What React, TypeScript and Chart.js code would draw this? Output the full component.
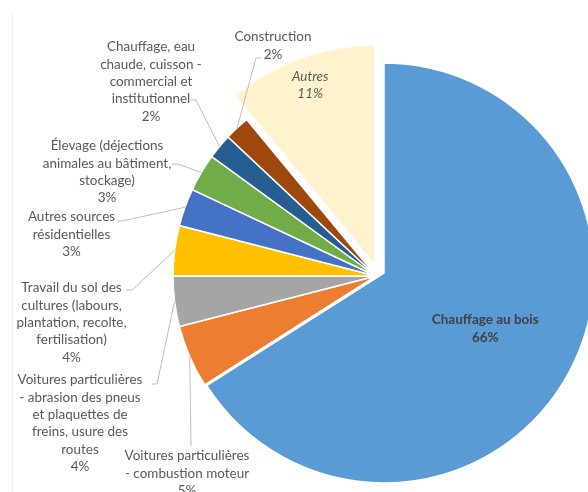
import React, { useEffect, useRef } from "react";
import { Chart, registerables } from "chart.js";

Chart.register(...registerables);

// ---- data ----
const CATEGORIES: string[] = [
  "Chauffage au bois",
  "Voitures particulières\n- combustion moteur",
  "Voitures particulières\n- abrasion des pneus\net plaquettes de\nfreins, usure des\nroutes",
  "Travail du sol des\ncultures (labours,\nplantation, recolte,\nfertilisation)",
  "Autres sources\nrésidentielles",
  "Élevage (déjections\nanimales au bâtiment,\nstockage)",
  "Chauffage, eau\nchaude, cuisson -\ncommercial et\ninstitutionnel",
  "Construction",
  "Autres",
];
const VALUES: number[] = [66, 5, 4, 4, 3, 3, 2, 2, 11];

// ---- styles / layout ----
const COLORS = [
  "#5B9BD5",
  "#ED7D31",
  "#A5A5A5",
  "#FFC000",
  "#4472C4",
  "#70AD47",
  "#255E91",
  "#9E480E",
  "#FFF2CC",
];

// explode adjustments (dx, dy, extra radius) per slice
const EXPLODE: ({ dx: number; dy: number; dr: number } | null)[] = [
  { dx: 8, dy: -3, dr: 7 },
  null,
  null,
  null,
  null,
  null,
  null,
  null,
  { dx: -1, dy: -11, dr: 17 },
];

type OuterLabel = { cx: number; y: number; leader: number[][] };
const OUTER_LABELS: (OuterLabel | null)[] = [
  null,
  { cx: 187, y: 456, leader: [[191, 446]] },
  { cx: 80, y: 380, leader: [[152, 384], [157, 384]] },
  { cx: 71.5, y: 288, leader: [[126, 290], [132, 290]] },
  { cx: 71.5, y: 217, leader: [[117, 221], [122, 221]] },
  { cx: 107, y: 146, leader: [[172, 164], [178, 164]] },
  { cx: 151, y: 47, leader: [[190, 100], [196, 100]] },
  { cx: 273, y: 37, leader: [[261, 58], [256, 58]] },
  null,
];

type InnerLabel = { frac: number; lh: number; style: string; color: string };
const INNER_LABELS: (InnerLabel | null)[] = [
  { frac: 0.55, lh: 18.5, style: "bold", color: "#404040" },
  null,
  null,
  null,
  null,
  null,
  null,
  null,
  { frac: 0.87, lh: 17.3, style: "italic", color: "#595959" },
];

const LINE_H = 17.3;
const TEXT_COLOR = "#595959";
const LEADER_COLOR = "#BDBDBD";
const FONT_FAMILY = "Lato, 'Open Sans', sans-serif";

const explodePlugin = {
  id: "explodeSlices",
  afterDatasetUpdate(chart: any, args: any) {
    const meta = chart.getDatasetMeta(args.index);
    meta.data.forEach((arc: any, i: number) => {
      const e = EXPLODE[i];
      if (!e) return;
      arc.x += e.dx;
      arc.y += e.dy;
      arc.outerRadius += e.dr;
    });
  },
};

const labelPlugin = {
  id: "pieLabels",
  afterDatasetsDraw(chart: any) {
    const ctx: CanvasRenderingContext2D = chart.ctx;
    const meta = chart.getDatasetMeta(0);
    ctx.save();
    ctx.font = `13px ${FONT_FAMILY}`;
    const w = ctx.measureText("Voitures particulières").width;
    const size = (13 * 125) / w;

    meta.data.forEach((arc: any, i: number) => {
      const mid = (arc.startAngle + arc.endAngle) / 2;
      const lines = [...CATEGORIES[i].split("\n"), `${VALUES[i]}%`];
      const outer = OUTER_LABELS[i];
      const inner = INNER_LABELS[i];
      ctx.textAlign = "center";
      ctx.textBaseline = "middle";
      if (outer) {
        const ex = arc.x + Math.cos(mid) * arc.outerRadius;
        const ey = arc.y + Math.sin(mid) * arc.outerRadius;
        ctx.strokeStyle = LEADER_COLOR;
        ctx.lineWidth = 1;
        ctx.beginPath();
        outer.leader.forEach((p, k) => {
          if (k === 0) ctx.moveTo(p[0], p[1]);
          else ctx.lineTo(p[0], p[1]);
        });
        ctx.lineTo(ex, ey);
        ctx.stroke();
        ctx.fillStyle = TEXT_COLOR;
        ctx.font = `${size}px ${FONT_FAMILY}`;
        lines.forEach((t, k) => ctx.fillText(t, outer.cx, outer.y + k * LINE_H));
      } else if (inner) {
        const d = arc.outerRadius * inner.frac;
        const cx = arc.x + Math.cos(mid) * d;
        const cy = arc.y + Math.sin(mid) * d;
        ctx.fillStyle = inner.color;
        ctx.font = `${inner.style} ${size}px ${FONT_FAMILY}`;
        const n = lines.length;
        lines.forEach((t, k) => ctx.fillText(t, cx, cy + (k - (n - 1) / 2) * inner.lh));
      }
    });
    ctx.restore();
  },
};

export default function App() {
  const ref = useRef<HTMLCanvasElement | null>(null);

  useEffect(() => {
    if (!ref.current) return;
    const chart = new Chart(ref.current, {
      type: "pie",
      data: {
        labels: CATEGORIES,
        datasets: [
          {
            data: VALUES,
            backgroundColor: COLORS,
            borderColor: "#FFFFFF",
            borderWidth: 1.5,
            hoverBorderWidth: 1.5,
            offset: 0,
            hoverOffset: 0,
            clip: false,
          } as any,
        ],
      },
      options: {
        responsive: false,
        animation: false,
        events: [],
        layout: {
          padding: { left: 172.25, top: 72.25, right: 60.25, bottom: 60.25 },
        },
        plugins: {
          legend: { display: false },
          tooltip: { enabled: false },
        },
      },
      plugins: [explodePlugin, labelPlugin],
    });
    return () => chart.destroy();
  }, []);

  return (
    <div
      style={{
        position: "fixed",
        left: 0,
        top: 0,
        width: 588,
        height: 492,
        overflow: "hidden",
        background: "#FFFFFF",
      }}
    >
      <div
        style={{
          position: "absolute",
          left: 12,
          top: 13,
          width: 1,
          height: 479,
          background: "#EFEFEF",
        }}
      />
      <canvas
        ref={ref}
        width={640}
        height={540}
        style={{ position: "absolute", left: 0, top: 0, display: "block" }}
      />
    </div>
  );
}
